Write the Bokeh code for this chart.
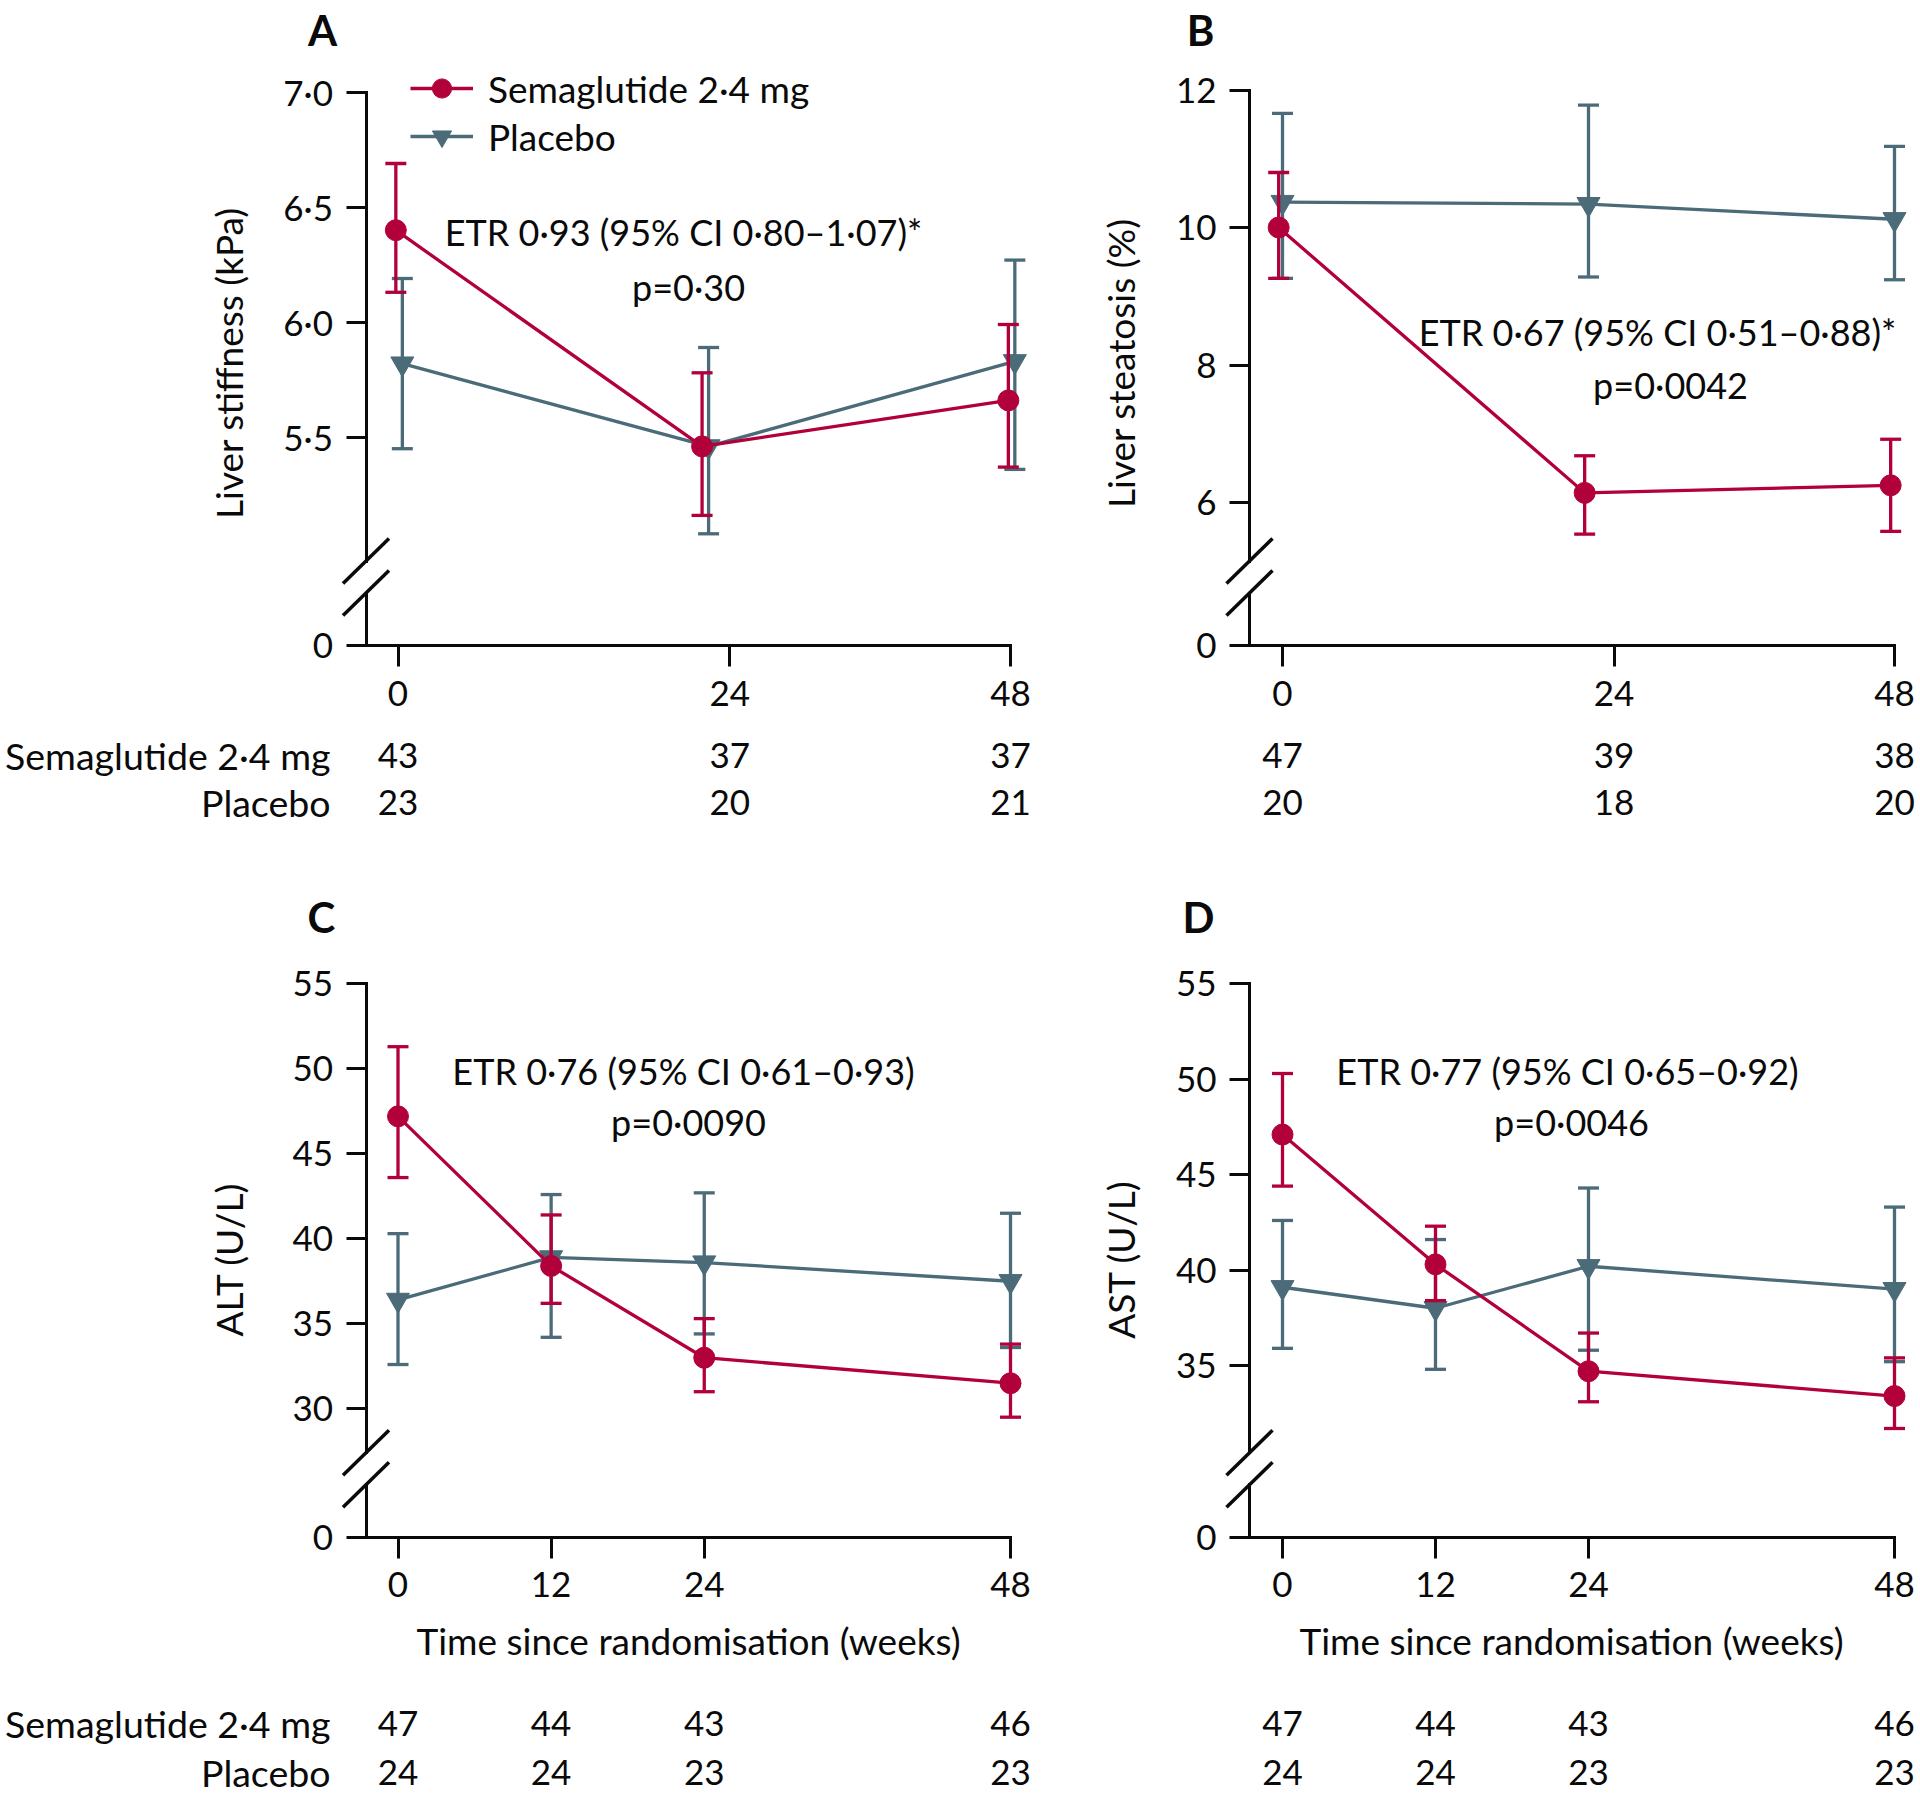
import math
from bokeh.plotting import figure
from bokeh.models import (Range1d, LinearAxis, FixedTicker, CustomJSTickFormatter,
                          Legend, LegendItem)
from bokeh.layouts import row, column
from bokeh.embed import file_html
from bokeh.resources import INLINE
from bokeh.core.properties import value

FONT = "Lato"
RED = "#B2003B"
GREY = "#4B6B78"
INK = "#0A0A0A"
FS_NUM = "35px"     # tick labels, counts
FS_WORD = "37px"    # axis titles
FS_ROW = "37.5px"   # row labels of the numbers-at-risk table
FS_LEG = "37px"
FS_ETR = "36px"
FS_LETTER = "42px"

# ---------------- data ----------------
weeks_ab = [0, 24, 48]
weeks_cd = [0, 12, 24, 48]

stiff_sema = [6.40, 5.46, 5.66]
stiff_sema_lo = [6.13, 5.16, 5.37]
stiff_sema_hi = [6.69, 5.78, 5.99]
stiff_plac = [5.82, 5.46, 5.83]
stiff_plac_lo = [5.45, 5.08, 5.36]
stiff_plac_hi = [6.19, 5.89, 6.27]

steat_sema = [10.0, 6.14, 6.25]
steat_sema_lo = [9.26, 5.54, 5.58]
steat_sema_hi = [10.80, 6.68, 6.92]
steat_plac = [10.37, 10.34, 10.12]
steat_plac_lo = [9.26, 9.28, 9.24]
steat_plac_hi = [11.66, 11.78, 11.18]

alt_sema = [47.2, 38.4, 33.0, 31.5]
alt_sema_lo = [43.6, 36.2, 31.0, 29.5]
alt_sema_hi = [51.3, 41.4, 35.3, 33.8]
alt_plac = [36.4, 38.9, 38.6, 37.5]
alt_plac_lo = [32.6, 34.2, 34.4, 33.6]
alt_plac_hi = [40.3, 42.6, 42.7, 41.5]

ast_sema = [47.1, 40.3, 34.7, 33.4]
ast_sema_lo = [44.4, 38.4, 33.1, 31.7]
ast_sema_hi = [50.3, 42.3, 36.7, 35.4]
ast_plac = [39.1, 38.0, 40.2, 39.0]
ast_plac_lo = [35.9, 34.8, 35.8, 35.2]
ast_plac_hi = [42.6, 41.6, 44.3, 43.3]

n_sema_a = [43, 37, 37]
n_plac_a = [23, 20, 21]
n_sema_b = [47, 39, 38]
n_plac_b = [20, 18, 20]
n_sema_cd = [47, 44, 43, 46]
n_plac_cd = [24, 24, 23, 23]

yticks_a = [5.5, 6, 6.5, 7]
ylabels_a = {5.5: "5·5", 6: "6·0", 6.5: "6·5", 7: "7·0"}
yticks_b = [6, 8, 10, 12]
yticks_c = [30, 35, 40, 45, 50, 55]
yticks_d = [35, 40, 45, 50, 55]

SEMA = "Semaglutide 2·4 mg"
PLAC = "Placebo"
XTITLE = "Time since randomisation (weeks)"

# ---------------- layout (page pixels, text y = visual centre) ----------------
specs = [
    dict(letter="A", box=(0, 0, 1080, 860), yaxis_px=365.5, x0_px=397.5, x48_px=1010,
         ytop=(7.0, 91.7), ybot=(5.5, 436.7), zero_px=645,
         weeks=weeks_ab, xticks=[0, 26, 48], xlabels={26: "24"},
         yticks=yticks_a, ylabels=ylabels_a, dodge=(-0.17, 0.34),
         sema=(stiff_sema, stiff_sema_lo, stiff_sema_hi), plac=(stiff_plac, stiff_plac_lo, stiff_plac_hi),
         n=(n_sema_a, n_plac_a), rowlabels=True, rows_y=(757, 804),
         ylab="Liver stiffness (kPa)", ylab_pos=(228, 362.5), letter_pos=(322, 31),
         etr=("ETR 0·93 (95% CI 0·80–1·07)*", "p=0·30"), etr_pos=((683, 233), (688, 288)),
         xlab=None, legend=True),
    dict(letter="B", box=(1080, 0, 838, 860), yaxis_px=1249, x0_px=1282, x48_px=1894,
         ytop=(12, 89.5), ybot=(6, 502), zero_px=645,
         weeks=weeks_ab, xticks=[0, 26, 48], xlabels={26: "24"},
         yticks=yticks_b, ylabels=None, dodge=(-0.3, 0.0),
         sema=(steat_sema, steat_sema_lo, steat_sema_hi), plac=(steat_plac, steat_plac_lo, steat_plac_hi),
         n=(n_sema_b, n_plac_b), rowlabels=False, rows_y=(757, 804),
         ylab="Liver steatosis (%)", ylab_pos=(1119.5, 362.5), letter_pos=(1200, 31),
         etr=("ETR 0·67 (95% CI 0·51–0·88)*", "p=0·0042"), etr_pos=((1657, 333), (1670, 386)),
         xlab=None, legend=False),
    dict(letter="C", box=(0, 860, 1080, 936), yaxis_px=365.5, x0_px=397.5, x48_px=1010,
         ytop=(55, 983.3), ybot=(30, 1408.2), zero_px=1536.7,
         weeks=weeks_cd, xticks=[0, 12, 24, 48], xlabels=None,
         yticks=yticks_c, ylabels=None, dodge=(0.0, 0.0),
         sema=(alt_sema, alt_sema_lo, alt_sema_hi), plac=(alt_plac, alt_plac_lo, alt_plac_hi),
         n=(n_sema_cd, n_plac_cd), rowlabels=True, rows_y=(1725, 1774),
         ylab="ALT (U/L)", ylab_pos=(228, 1259), letter_pos=(321, 918),
         etr=("ETR 0·76 (95% CI 0·61–0·93)", "p=0·0090"), etr_pos=((683, 1072), (688, 1123)),
         xlab=XTITLE, xlab_pos=(688, 1642), legend=False),
    dict(letter="D", box=(1080, 860, 838, 936), yaxis_px=1249, x0_px=1282, x48_px=1894,
         ytop=(55, 983.3), ybot=(35, 1365), zero_px=1536.7,
         weeks=weeks_cd, xticks=[0, 12, 24, 48], xlabels=None,
         yticks=yticks_d, ylabels=None, dodge=(0.0, 0.0),
         sema=(ast_sema, ast_sema_lo, ast_sema_hi), plac=(ast_plac, ast_plac_lo, ast_plac_hi),
         n=(n_sema_cd, n_plac_cd), rowlabels=False, rows_y=(1725, 1774),
         ylab="AST (U/L)", ylab_pos=(1119.5, 1259), letter_pos=(1198, 918),
         etr=("ETR 0·77 (95% CI 0·65–0·92)", "p=0·0046"), etr_pos=((1567, 1072), (1571, 1123)),
         xlab=XTITLE, xlab_pos=(1571, 1642), legend=False),
]


def build(s):
    left, top, w, h = s["box"]
    x0p, x48p = s["x0_px"], s["x48_px"]
    sx = (x48p - x0p) / 48.0
    yt, ytp = s["ytop"]
    yb, ybp = s["ybot"]
    sy = (ybp - ytp) / (yt - yb)

    def X(px):
        return (px - x0p) / sx

    def Y(py):
        return yt - (py - ytp) / sy

    p = figure(width=w, height=h, x_range=Range1d(X(left), X(left + w)),
               y_range=Range1d(Y(top + h), Y(top)), output_backend="svg",
               toolbar_location=None, x_axis_type=None, y_axis_type=None,
               min_border=0, title=None)
    p.outline_line_color = None
    p.background_fill_color = "white"
    p.border_fill_color = "white"

    zero_d = Y(s["zero_px"])
    ax_kw = dict(axis_line_width=3, axis_line_color=INK, axis_line_cap="square",
                 major_tick_line_width=3, major_tick_line_color=INK,
                 minor_tick_line_color=None, major_tick_in=0,
                 major_label_text_font=FONT, major_label_text_font_size=FS_NUM,
                 major_label_text_color=INK)

    yax = LinearAxis(fixed_location=X(s["yaxis_px"]), bounds=(Y(s["zero_px"] - 84.5), yt),
                     ticker=FixedTicker(ticks=s["yticks"]), major_tick_out=20,
                     major_label_standoff=13, **ax_kw)
    if s["ylabels"]:
        yax.major_label_overrides = s["ylabels"]
    p.add_layout(yax, "left")

    ylow = LinearAxis(fixed_location=X(s["yaxis_px"]), bounds=(zero_d, Y(s["zero_px"] - 52.5)),
                      ticker=FixedTicker(ticks=[zero_d]), major_tick_out=20,
                      major_label_standoff=13,
                      formatter=CustomJSTickFormatter(code="return '0';"), **ax_kw)
    p.add_layout(ylow, "left")

    xax = LinearAxis(fixed_location=zero_d, bounds=(X(s["yaxis_px"]), 48),
                     ticker=FixedTicker(ticks=s["xticks"]), major_tick_out=21,
                     major_label_standoff=14, **ax_kw)
    if s["xlabels"]:
        xax.major_label_overrides = s["xlabels"]
    p.add_layout(xax, "below")

    # axis break marks
    for c in (s["zero_px"] - 84.5, s["zero_px"] - 52.5):
        p.segment(x0=[X(s["yaxis_px"] - 23)], y0=[Y(c + 22.5)],
                  x1=[X(s["yaxis_px"] + 23)], y1=[Y(c - 22.5)],
                  line_color=INK, line_width=3.5)

    weeks = s["weeks"]
    ds, dp = s["dodge"]
    renderers = {}
    for key, color, marker, msize, dx in (("plac", GREY, "inverted_triangle", 23, dp),
                                           ("sema", RED, "circle", 21, ds)):
        yv, lo, hi = s[key]
        xs = [wk + dx for wk in weeks]
        p.segment(x0=xs, y0=lo, x1=xs, y1=hi, line_color=color, line_width=3.3)
        p.scatter(x=xs, y=lo, marker="dash", size=21, line_color=color, line_width=3.3)
        p.scatter(x=xs, y=hi, marker="dash", size=21, line_color=color, line_width=3.3)
        lr = p.line(x=xs, y=yv, line_color=color, line_width=3.3)
        sr = p.scatter(x=xs, y=yv, marker=marker, size=msize, fill_color=color,
                       line_color=color, line_width=1)
        renderers[key] = (lr, sr)

    # text y given as visual centre; glyph anchor sits ~2px above it
    def txt(xs, ys, texts, align="center", size=FS_NUM, bold=False, angle=0.0):
        p.text(x=xs, y=[Y(v - 2) for v in ys] if angle == 0.0 else ys, text=texts,
               text_font=value(FONT), text_font_size=value(size),
               text_align=align, text_baseline="alphabetic", text_color=INK, angle=angle,
               text_font_style="bold" if bold else "normal")

    lx, ly = s["letter_pos"]
    txt([X(lx)], [ly], [s["letter"]], size=FS_LETTER, bold=True)
    yx, yy = s["ylab_pos"]
    txt([X(yx)], [Y(yy)], [s["ylab"]], size=FS_WORD, angle=math.pi / 2)
    if s["xlab"]:
        xx, xy = s["xlab_pos"]
        txt([X(xx)], [xy], [s["xlab"]], size=FS_WORD)
    (ex, ey), (px_, py_) = s["etr_pos"]
    txt([X(ex)], [ey], [s["etr"][0]], size=FS_ETR)
    txt([X(px_)], [py_], [s["etr"][1]], size=FS_ETR)
    ns, npl = s["n"]
    r1, r2 = s["rows_y"]
    tick_x = s["xticks"]
    txt(tick_x, [r1] * len(tick_x), [str(v) for v in ns])
    txt(tick_x, [r2] * len(tick_x), [str(v) for v in npl])
    if s["rowlabels"]:
        txt([X(330)], [r1], [SEMA], align="right", size=FS_ROW)
        txt([X(330)], [r2], [PLAC], align="right", size=FS_ROW)

    if s["legend"]:
        leg = Legend(items=[LegendItem(label=SEMA, renderers=list(renderers["sema"])),
                            LegendItem(label=PLAC, renderers=list(renderers["plac"]))],
                     location=(410 - left, h - ((64 - top) + 96)),
                     glyph_width=63, glyph_height=48, label_standoff=15, spacing=0,
                     padding=0, margin=0, border_line_color=None, background_fill_alpha=0,
                     label_text_font=FONT, label_text_font_size=FS_LEG, label_text_color=INK)
        p.add_layout(leg)
    return p


figs = [build(s) for s in specs]
layout = column(row(figs[0], figs[1]), row(figs[2], figs[3]))
open("out.html", "w").write(file_html(layout, INLINE, title="Liver outcomes"))
